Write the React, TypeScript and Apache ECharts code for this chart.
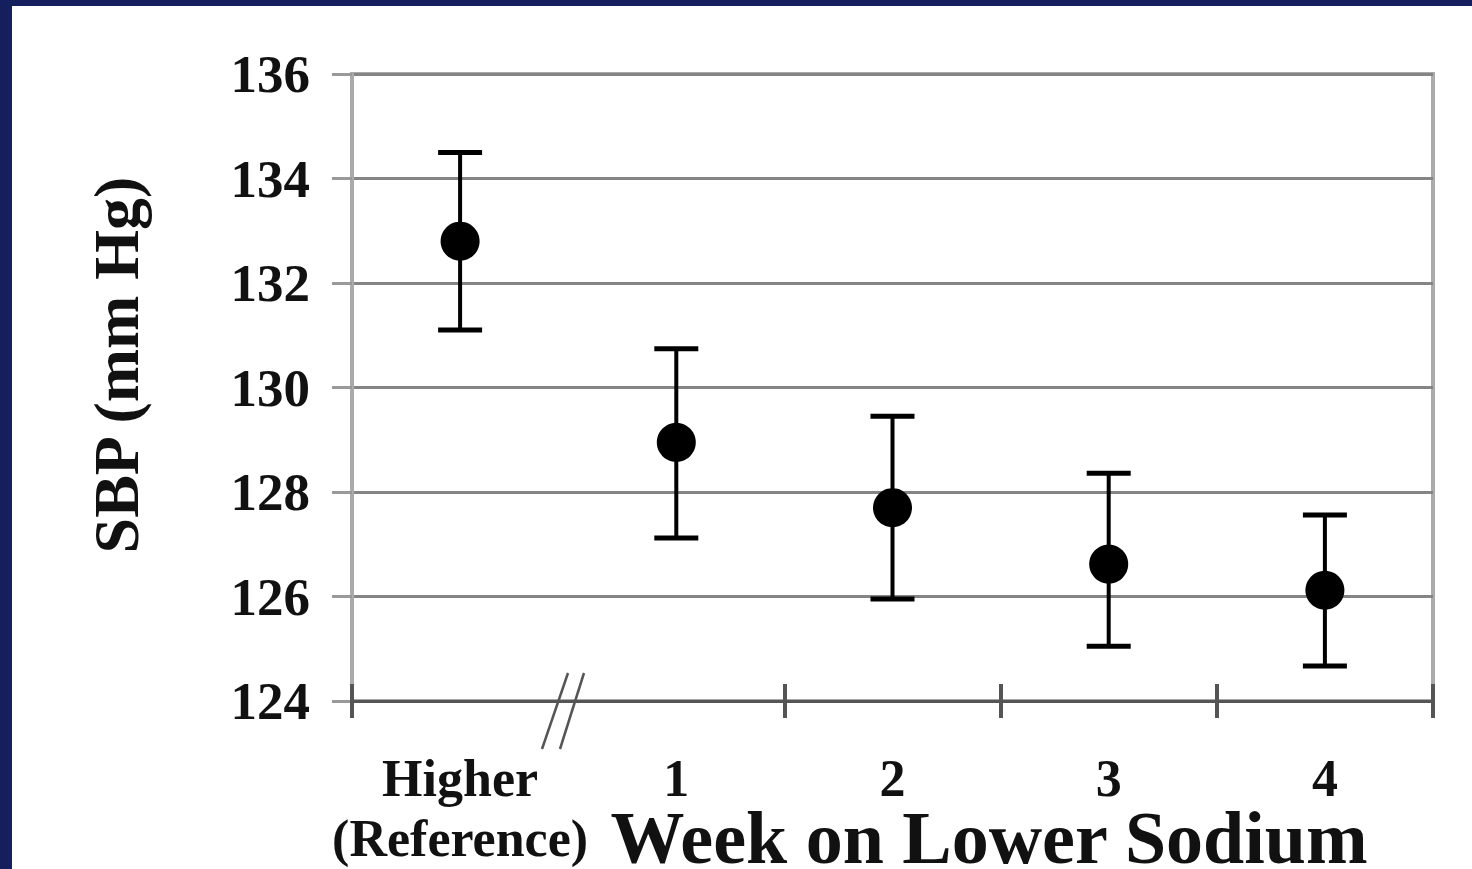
import React, { useEffect, useRef } from "react";
import * as echarts from "echarts";

const categories = ["Higher\n(Reference)", "1", "2", "3", "4"];
const means = [132.8, 128.95, 127.7, 126.62, 126.12];
const upper = [134.5, 130.74, 129.45, 128.36, 127.56];
const lower = [131.1, 127.12, 125.95, 125.05, 124.67];
const yMin = 124;
const yMax = 136;
const yStep = 2;
const yAxisTitle = "SBP (mm Hg)";
const xAxisTitle = "Week on Lower Sodium";

const FONT = "'Liberation Serif', 'Times New Roman', serif";
const NAVY = "#161f5e";

export default function App() {
  const ref = useRef<HTMLDivElement>(null);

  useEffect(() => {
    if (!ref.current) return;
    const chart = echarts.init(ref.current, undefined, { renderer: "svg" });
    const tickInterval = (index: number) => index !== 1;
    const option: any = {
      animation: false,
      backgroundColor: "#ffffff",
      grid: {
        left: 352,
        right: 39,
        top: 74,
        bottom: 168,
        show: true,
        borderColor: "#aaaaaa",
        borderWidth: 4,
        backgroundColor: "transparent",
      },
      xAxis: [
        {
          type: "category",
          data: categories,
          boundaryGap: true,
          axisLine: { show: true, lineStyle: { color: "#555555", width: 3 } },
          axisTick: {
            show: true,
            inside: false,
            length: 17,
            interval: tickInterval,
            lineStyle: { color: "#555555", width: 4 },
          },
          axisLabel: {
            fontFamily: FONT,
            fontWeight: "bold",
            fontSize: 52,
            lineHeight: 60,
            color: "#111111",
            margin: 47,
            interval: 0,
          },
          splitLine: { show: false },
        },
        {
          type: "category",
          data: categories,
          position: "bottom",
          boundaryGap: true,
          axisLine: { show: false },
          axisTick: {
            show: true,
            inside: true,
            length: 17,
            interval: tickInterval,
            lineStyle: { color: "#555555", width: 4 },
          },
          axisLabel: { show: false },
          splitLine: { show: false },
        },
      ],
      yAxis: {
        type: "value",
        min: yMin,
        max: yMax,
        interval: yStep,
        axisLine: { show: true, lineStyle: { color: "#aaaaaa", width: 4 } },
        axisTick: { show: true, length: 20, lineStyle: { color: "#999999", width: 3 } },
        axisLabel: {
          fontFamily: FONT,
          fontWeight: "bold",
          fontSize: 53,
          color: "#111111",
          margin: 42,
        },
        splitLine: { show: true, lineStyle: { color: "#858585", width: 3 } },
      },
      series: [
        {
          type: "custom",
          xAxisIndex: 0,
          data: categories.map((_, i) => [i, lower[i], upper[i]]),
          renderItem: (params: any, api: any) => {
            const lo = api.coord([api.value(0), api.value(1)]);
            const hi = api.coord([api.value(0), api.value(2)]);
            const half = 22;
            const st = { stroke: "#000000", lineWidth: 4 };
            const cap = { stroke: "#000000", lineWidth: 5 };
            return {
              type: "group",
              children: [
                { type: "line", shape: { x1: lo[0], y1: lo[1], x2: hi[0], y2: hi[1] }, style: st },
                { type: "line", shape: { x1: lo[0] - half, y1: lo[1], x2: lo[0] + half, y2: lo[1] }, style: cap },
                { type: "line", shape: { x1: hi[0] - half, y1: hi[1], x2: hi[0] + half, y2: hi[1] }, style: cap },
              ],
            };
          },
          z: 3,
        },
        {
          type: "scatter",
          xAxisIndex: 0,
          data: categories.map((_, i) => [i, means[i]]),
          symbol: "circle",
          symbolSize: 39,
          itemStyle: { color: "#000000", opacity: 1 },
          z: 4,
        },
      ],
      graphic: [
        { type: "rect", shape: { x: 0, y: 0, width: 1472, height: 6 }, style: { fill: NAVY }, z: 100 },
        { type: "rect", shape: { x: 0, y: 0, width: 12, height: 869 }, style: { fill: NAVY }, z: 100 },
        {
          type: "text",
          x: 116,
          y: 365,
          rotation: Math.PI / 2,
          style: {
            text: yAxisTitle,
            fontFamily: FONT,
            fontWeight: "bold",
            fontSize: 64,
            fill: "#111111",
            align: "center",
            verticalAlign: "middle",
          },
        },
        {
          type: "text",
          x: 989,
          y: 838,
          style: {
            text: xAxisTitle,
            fontFamily: FONT,
            fontWeight: "bold",
            fontSize: 74,
            lineHeight: 58,
            fill: "#111111",
            align: "center",
            verticalAlign: "middle",
          },
        },
        {
          type: "line",
          shape: { x1: 542, y1: 749, x2: 568, y2: 673 },
          style: { stroke: "#555555", lineWidth: 2.5 },
          z: 50,
        },
        {
          type: "line",
          shape: { x1: 560, y1: 749, x2: 584, y2: 673 },
          style: { stroke: "#555555", lineWidth: 2.5 },
          z: 50,
        },
      ],
    };
    chart.setOption(option);
    return () => chart.dispose();
  }, []);

  return (
    <div
      ref={ref}
      style={{ position: "fixed", left: 0, top: 0, width: 1472, height: 869 }}
    />
  );
}
